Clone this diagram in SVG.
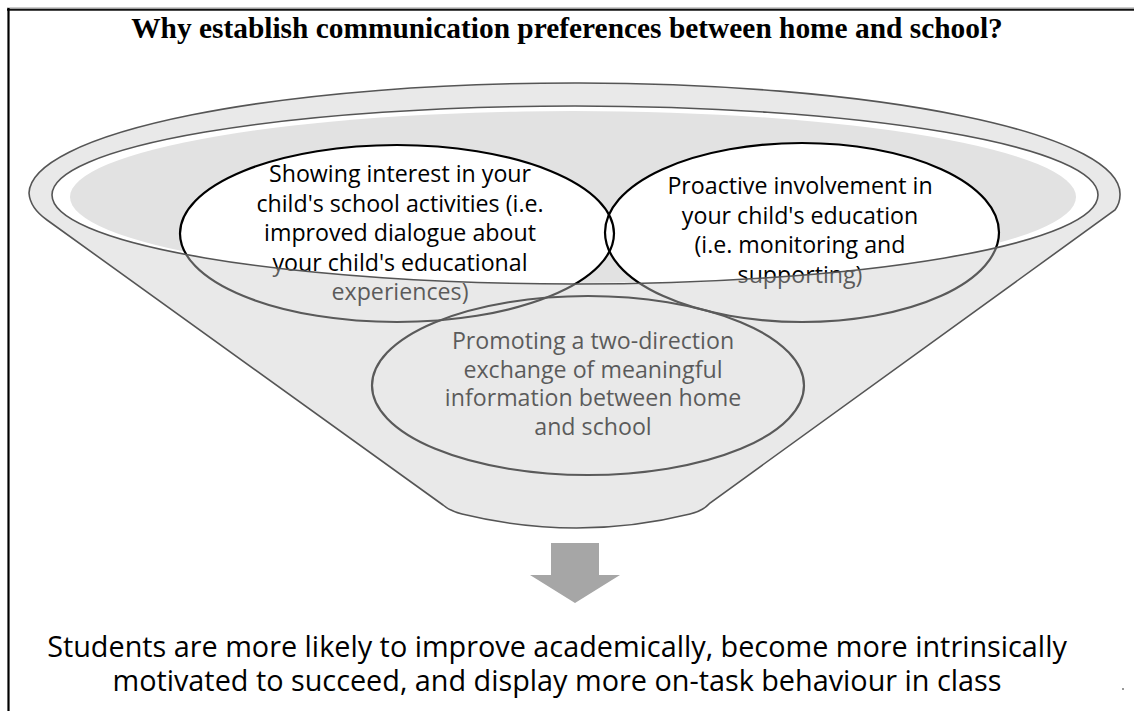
<svg xmlns="http://www.w3.org/2000/svg" width="1134" height="711" viewBox="0 0 1134 711">
<style>
.node-text{font-family:"Open Sans","Noto Sans",sans-serif;font-size:23.2px;fill:#000;text-anchor:middle}
.title{font-family:"Liberation Serif","Times New Roman",serif;font-weight:bold;font-size:29.4px;fill:#000;text-anchor:middle}
.outcome{font-family:"Open Sans","Noto Sans",sans-serif;font-size:28.8px;fill:#000;text-anchor:middle}
.node-shape{fill:none;stroke:#000;stroke-width:2.2}
.fill-white{fill:#fff}
.rim{fill:none;stroke:#555;stroke-width:1.6}
</style>
<rect x="0" y="0" width="1134" height="711" fill="#fff"/>
<g id="frame">
<line x1="7" y1="8" x2="1134" y2="8" stroke="#999" stroke-width="1"/>
<line x1="7" y1="9.8" x2="1134" y2="9.8" stroke="#111" stroke-width="2"/>
<line x1="8.5" y1="8" x2="8.5" y2="711" stroke="#000" stroke-width="2.2"/>
</g>
<g id="title">
<text class="title" x="567" y="38">Why establish communication preferences between home and school?</text>
</g>
<g id="funnel-back">
<ellipse cx="575" cy="195" rx="523" ry="89" fill="#fff"/>
<ellipse cx="573" cy="197" rx="503" ry="86" fill="#e2e2e2"/>
</g>
<g id="node-fills">
<ellipse class="fill-white" cx="397" cy="233.5" rx="217" ry="88.5"/>
<ellipse class="fill-white" cx="802" cy="232.5" rx="197" ry="89.5"/>
<ellipse class="fill-white" cx="588" cy="385.5" rx="216" ry="89.5"/>
</g>
<g id="node-interest">
<ellipse class="node-shape" cx="397" cy="233.5" rx="217" ry="88.5"/>
<text class="node-text" x="400" y="182">Showing interest in your</text>
<text class="node-text" x="400" y="211.5">child's school activities (i.e.</text>
<text class="node-text" x="400" y="241">improved dialogue about</text>
<text class="node-text" x="400" y="270.5">your child's educational</text>
<text class="node-text" x="400" y="300">experiences)</text>
</g>
<g id="node-proactive">
<ellipse class="node-shape" cx="802" cy="232.5" rx="197" ry="89.5"/>
<text class="node-text" x="800" y="194">Proactive involvement in</text>
<text class="node-text" x="800" y="223.5">your child's education</text>
<text class="node-text" x="800" y="253">(i.e. monitoring and</text>
<text class="node-text" x="800" y="282.5">supporting)</text>
</g>
<g id="node-exchange">
<ellipse class="node-shape" cx="588" cy="385.5" rx="216" ry="89.5"/>
<text class="node-text" x="593" y="349">Promoting a two-direction</text>
<text class="node-text" x="593" y="377.7">exchange of meaningful</text>
<text class="node-text" x="593" y="406.4">information between home</text>
<text class="node-text" x="593" y="435">and school</text>
</g>
<g id="funnel-front">
<path fill="#cdcdcd" fill-opacity="0.44" fill-rule="evenodd" d="M47,220 Q30,208 29,193 A545.5,111 0 0 1 1120,195 Q1120,203 1115,210 L710,503 Q703,511 690,514 Q577,542 462,514 Q450,511 443,505 Z M52,195 A523,89 0 0 0 1098,195 A523,89 0 0 0 52,195 Z"/>
<path class="rim" d="M47,220 Q30,208 29,193 A545.5,111 0 0 1 1120,195 Q1120,203 1115,210 L710,503 Q703,511 690,514 Q577,542 462,514 Q450,511 443,505 Z"/>
<ellipse class="rim" cx="575" cy="195" rx="523" ry="89"/>
</g>
<g id="connectors">
<path d="M551,543 L599,543 L599,575 L620,575 L575,603 L530,575 L551,575 Z" fill="#a6a6a6"/>
</g>
<g id="outcome">
<text class="outcome" x="557" y="657">Students are more likely to improve academically, become more intrinsically</text>
<text class="outcome" x="557" y="691">motivated to succeed, and display more on-task behaviour in class</text>
</g>
<rect x="1122" y="688" width="2" height="2" fill="#999"/>
</svg>
